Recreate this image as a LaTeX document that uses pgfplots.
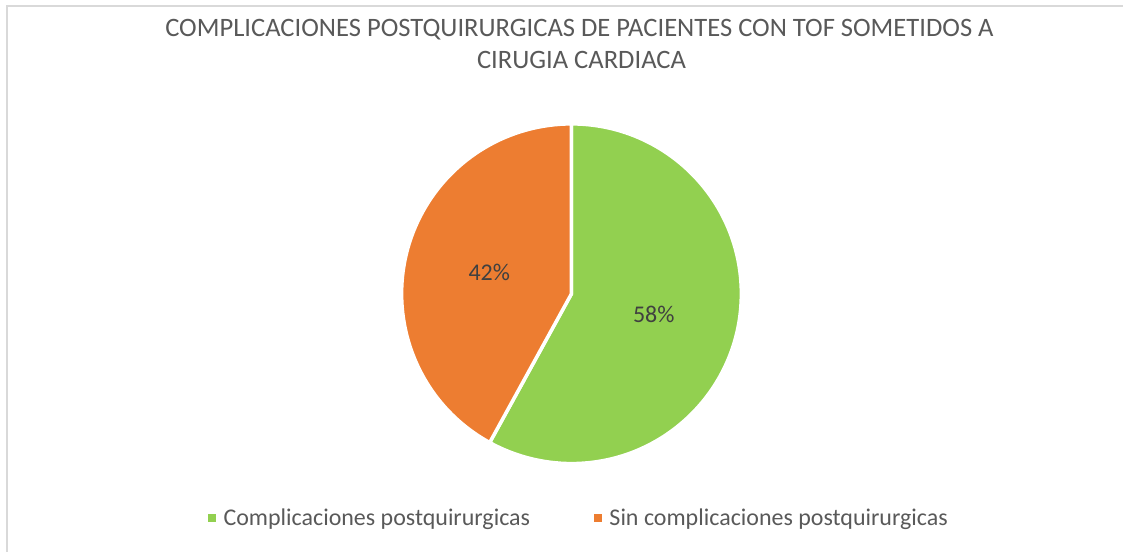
\documentclass[border=0pt]{standalone}
\usepackage{pgfplots}
\pgfplotsset{compat=1.18}
\usepackage{pgfplotstable}
\usepackage{fontspec}
\setmainfont{Carlito}
\definecolor{cGreen}{HTML}{92D050}
\definecolor{cOrange}{HTML}{ED7D31}
\definecolor{cTitle}{HTML}{595959}
\definecolor{cLabel}{HTML}{404040}
\definecolor{cBorder}{HTML}{D9D9D9}

\pgfplotstableread{
name value
A 58
B 42
}\piedata
\pgfplotstablegetelem{0}{value}\of\piedata \let\vA\pgfplotsretval
\pgfplotstablegetelem{1}{value}\of\piedata \let\vB\pgfplotsretval

\pgfmathsetmacro{\tot}{\vA+\vB}
\pgfmathsetmacro{\fA}{\vA/\tot}
\pgfmathsetmacro{\fB}{\vB/\tot}
\pgfmathsetmacro{\aS}{90}
\pgfmathsetmacro{\aM}{90-360*\fA}
\pgfmathsetmacro{\aE}{\aM-360*\fB}
\def\cx{572}\def\cy{258}\def\R{170}
\pgfmathsetmacro{\sx}{\cx+\R*cos(\aS)}
\pgfmathsetmacro{\sy}{\cy+\R*sin(\aS)}
\pgfmathsetmacro{\mx}{\cx+\R*cos(\aM)}
\pgfmathsetmacro{\my}{\cy+\R*sin(\aM)}
\pgfmathsetmacro{\lAang}{(\aS+\aM)/2}
\pgfmathsetmacro{\lBang}{(\aM+\aE)/2}
\pgfmathsetmacro{\lAx}{\cx+85*cos(\lAang)}
\pgfmathsetmacro{\lAy}{\cy+85*sin(\lAang)}
\pgfmathsetmacro{\lBx}{\cx+85*cos(\lBang)}
\pgfmathsetmacro{\lBy}{\cy+85*sin(\lBang)}
\pgfmathtruncatemacro{\pA}{round(100*\fA)}
\pgfmathtruncatemacro{\pB}{round(100*\fB)}

\begin{document}
\begin{tikzpicture}
\begin{axis}[
  width=1124pt, height=552pt, scale only axis,
  xmin=0, xmax=1124, ymin=0, ymax=552,
  hide axis, clip=false,
  legend columns=2,
  legend style={at={(axis cs:578.5,34)}, anchor=center, draw=none, fill=none,
    font=\fontsize{24}{28}\selectfont, text=cTitle,
    inner sep=0pt, outer sep=0pt,
    nodes={inner sep=0pt, outer sep=0pt},
    /tikz/every odd column/.append style={column sep=8pt},
    /tikz/every even column/.append style={column sep=64pt}},
]
\path (axis cs:0,0) rectangle (axis cs:1124,552);
\draw[cBorder, line width=2pt] (axis cs:7,0) -- (axis cs:7,546) -- (axis cs:1124,546);

\fill[cGreen, draw=white, line width=3.5pt, line join=miter]
  (axis cs:\cx,\cy) -- (axis cs:\sx,\sy) arc[start angle=\aS, end angle=\aM, radius=\R pt] -- cycle;
\fill[cOrange, draw=white, line width=3.5pt, line join=miter]
  (axis cs:\cx,\cy) -- (axis cs:\mx,\my) arc[start angle=\aM, end angle=\aE, radius=\R pt] -- cycle;

\node[text=cLabel, font=\fontsize{24}{28}\selectfont] at (axis cs:\lAx,\lAy) {\pA\%};
\node[text=cLabel, font=\fontsize{24}{28}\selectfont] at (axis cs:\lBx,\lBy) {\pB\%};

\node[text=cTitle, font=\fontsize{26.6}{32}\selectfont, anchor=base] at (axis cs:580,515) {COMPLICACIONES POSTQUIRURGICAS DE PACIENTES CON TOF SOMETIDOS A};
\node[text=cTitle, font=\fontsize{26.6}{32}\selectfont, anchor=base] at (axis cs:582,483) {CIRUGIA CARDIACA};

\addlegendimage{legend image code/.code={\fill[cGreen] (0pt,-3.5pt) rectangle (7pt,3.5pt);}}
\addlegendentry{Complicaciones postquirurgicas}
\addlegendimage{legend image code/.code={\fill[cOrange] (0pt,-3.5pt) rectangle (7pt,3.5pt);}}
\addlegendentry{Sin complicaciones postquirurgicas}
\end{axis}
\end{tikzpicture}
\end{document}
